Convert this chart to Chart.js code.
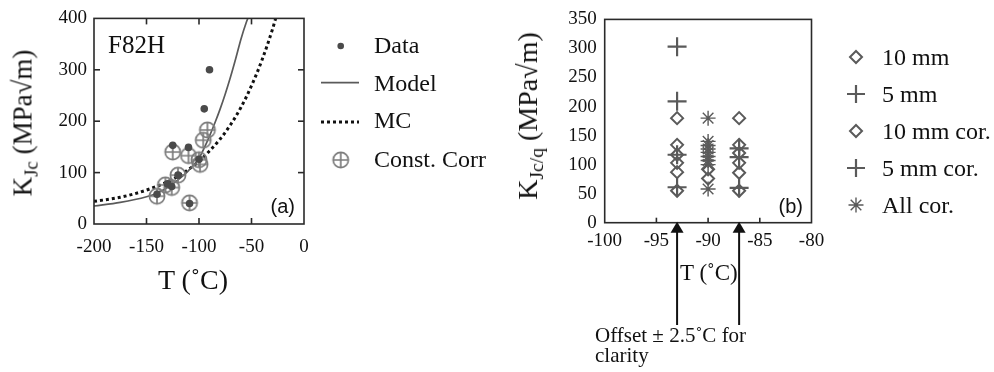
<!DOCTYPE html>
<html><head><meta charset="utf-8">
<script src="https://cdn.jsdelivr.net/npm/chart.js@4.4.1/dist/chart.umd.min.js"></script>
<style>
html,body{margin:0;padding:0;background:#fff;}
#wrap{position:relative;width:994px;height:372px;overflow:hidden;color:#111;}
canvas{position:absolute;left:0;top:0;}
.t{position:absolute;line-height:1;white-space:nowrap;font-family:"Liberation Serif","Times New Roman",serif;}
.sub{font-size:.7em;position:relative;top:.3em;}
</style></head><body>
<div id="wrap">
<canvas id="ca" width="994" height="372"></canvas>
<canvas id="cb" width="994" height="372"></canvas>
</div>
<script>
// ---------- Panel (a) data ----------
const dataT  = [-140, -130, -126, -125, -120, -110, -109, -100, -95, -90];
const dataK  = [58, 78, 73, 153, 95, 149, 40, 126, 224, 300];
const corrT  = [-140, -132, -126, -125, -120, -110, -109, -100, -99, -96, -92];
const corrK  = [54, 76, 71, 140, 95, 133, 41, 125, 116, 163, 183];
const modelT = [-200, -175, -150, -140, -130, -120, -110, -100, -95, -90, -85, -80, -75, -70, -65, -60, -55, -53.5];
const modelK = [35, 42, 53, 60, 71, 86, 104, 128, 148, 171, 196, 223, 253, 286, 322, 360, 392, 400];
const mcT    = [-200, -175, -150, -125, -110, -100, -90, -80, -70, -60, -50, -40, -30, -27];
const mcK    = [44, 52, 66, 87, 106, 122, 142, 165, 193, 227, 269, 319, 379, 400];
const legendA = ['Data', 'Model', 'MC', 'Const. Corr'];

// ---------- Panel (b) data ----------
const mm10T    = [-93, -93, -93, -93, -93, -93];
const mm10K    = [180, 134, 117, 103, 87, 55];
const mm5T     = [-93, -93, -93, -93];
const mm5K     = [303, 209, 117, 61];
const mm10corT = [-87, -87, -87, -87, -87, -87, -90, -90];
const mm10corK = [180, 134, 120, 103, 86, 55, 92, 76];
const mm5corT  = [-87, -87, -87];
const mm5corK  = [128, 113, 60];
const allcorT  = [-90, -90, -90, -90, -90, -90, -90, -90, -90];
const allcorK  = [180, 140, 133, 127, 121, 114, 107, 100, 58];
const legendB  = ['10 mm', '5 mm', '10 mm cor.', '5 mm cor.', 'All cor.'];
const arrowT   = [-93, -87];

const pts = (xs, ys) => xs.map((x, i) => ({x, y: ys[i]}));
const SERIF = '"Liberation Serif", "Times New Roman", serif';
const wrap = document.getElementById('wrap');

// crossed-circle marker
const cc = document.createElement('canvas');
cc.width = 20; cc.height = 20;
(function(){
  const c = cc.getContext('2d');
  c.strokeStyle = '#7c7c7c'; c.lineWidth = 1.7;
  c.beginPath(); c.arc(10, 10, 7.6, 0, Math.PI*2); c.stroke();
  c.beginPath(); c.moveTo(2.4, 10); c.lineTo(17.6, 10); c.moveTo(10, 2.4); c.lineTo(10, 17.6); c.stroke();
})();

function drawMarker(ctx, style, x, y, r, color, lw) {
  ctx.save();
  ctx.strokeStyle = color; ctx.fillStyle = color; ctx.lineWidth = lw;
  ctx.beginPath();
  if (style === 'dot') { ctx.arc(x, y, r, 0, Math.PI*2); ctx.fill(); }
  else if (style === 'diamond') { ctx.moveTo(x, y-r); ctx.lineTo(x+r, y); ctx.lineTo(x, y+r); ctx.lineTo(x-r, y); ctx.closePath(); ctx.stroke(); }
  else if (style === 'plus') { ctx.moveTo(x-r, y); ctx.lineTo(x+r, y); ctx.moveTo(x, y-r); ctx.lineTo(x, y+r); ctx.stroke(); }
  else if (style === 'star') {
    const d = r*Math.SQRT1_2;
    ctx.moveTo(x-r, y); ctx.lineTo(x+r, y); ctx.moveTo(x, y-r); ctx.lineTo(x, y+r);
    ctx.moveTo(x-d, y-d); ctx.lineTo(x+d, y+d); ctx.moveTo(x-d, y+d); ctx.lineTo(x+d, y-d); ctx.stroke();
  }
  ctx.restore();
}

const framePlugin = {
  id: 'frame',
  afterDraw(chart, args, o) {
    const {ctx, chartArea: a, scales: {x, y}} = chart;
    ctx.save();
    ctx.strokeStyle = '#2a2a2a'; ctx.lineWidth = 1.6;
    ctx.strokeRect(a.left, a.top, a.right - a.left, a.bottom - a.top);
    const L = o.len || 6;
    const seg = (x1, y1, x2, y2) => { ctx.beginPath(); ctx.moveTo(x1, y1); ctx.lineTo(x2, y2); ctx.stroke(); };
    x.ticks.forEach(t => {
      const p = x.getPixelForValue(t.value);
      if (p <= a.left + 1 || p >= a.right - 1) return;
      seg(p, a.bottom, p, a.bottom - L);
      if (o.top) seg(p, a.top, p, a.top + L);
    });
    if (o.yTicks) y.ticks.forEach(t => {
      const p = y.getPixelForValue(t.value);
      if (p <= a.top + 1 || p >= a.bottom - 1) return;
      seg(a.left, p, a.left + L, p);
      seg(a.right, p, a.right - L, p);
    });
    ctx.restore();
    if (o.extra) o.extra(chart);
  }
};

function fitArea(chart, target) {
  for (let i = 0; i < 4; i++) {
    const a = chart.chartArea, p = chart.options.layout.padding;
    p.left += target.left - a.left;
    p.top += target.top - a.top;
    p.right += a.right - target.right;
    p.bottom += a.bottom - target.bottom;
    chart.update('none');
  }
}

const tickFont = {family: SERIF, size: 19};
function axes(xmin, xmax, xstep, ymin, ymax, ystep, ypad, xpad) {
  return {
    x: {type: 'linear', min: xmin, max: xmax, grid: {display: false, drawTicks: false}, border: {display: false},
        ticks: {stepSize: xstep, font: tickFont, color: '#111', padding: xpad, maxRotation: 0}},
    y: {type: 'linear', min: ymin, max: ymax, grid: {display: false, drawTicks: false}, border: {display: false},
        ticks: {stepSize: ystep, font: tickFont, color: '#111', padding: ypad}}
  };
}

// ---------- Chart (a) ----------
const chartA = new Chart(document.getElementById('ca'), {
  type: 'scatter',
  data: {datasets: [
    {label: legendA[0], data: pts(dataT, dataK), pointStyle: 'circle', pointRadius: 3.8, backgroundColor: '#4a4a4a', borderWidth: 0},
    {label: legendA[3], data: pts(corrT, corrK), pointStyle: cc, pointRadius: 8},
    {label: legendA[1], type: 'line', data: pts(modelT, modelK), borderColor: '#5a5a5a', borderWidth: 1.7, pointRadius: 0, cubicInterpolationMode: 'monotone', fill: false},
    {label: legendA[2], type: 'line', data: pts(mcT, mcK), borderColor: '#111', borderWidth: 3, borderDash: [3, 3], pointRadius: 0, cubicInterpolationMode: 'monotone', fill: false}
  ]},
  options: {
    responsive: false, animation: false, devicePixelRatio: 1,
    layout: {padding: {left: 10, top: 10, right: 600, bottom: 100}},
    scales: axes(-200, 0, 50, 0, 400, 100, 7, 12),
    plugins: {legend: {display: false}, tooltip: {enabled: false},
      frame: {len: 6, top: true, yTicks: true, extra(chart) {
        const ctx = chart.ctx;
        drawMarker(ctx, 'dot', 340.7, 46, 3.3, '#4a4a4a', 1);
        ctx.save();
        ctx.strokeStyle = '#5a5a5a'; ctx.lineWidth = 1.7;
        ctx.beginPath(); ctx.moveTo(321, 82.7); ctx.lineTo(359, 82.7); ctx.stroke();
        ctx.strokeStyle = '#111'; ctx.lineWidth = 3; ctx.setLineDash([3, 3]);
        ctx.beginPath(); ctx.moveTo(321, 122); ctx.lineTo(359, 122); ctx.stroke();
        ctx.restore();
        ctx.drawImage(cc, 340.7 - 10, 160 - 10);
      }}}
  },
  plugins: [framePlugin]
});
fitArea(chartA, {left: 94, top: 16, right: 304, bottom: 224});

// ---------- Chart (b) ----------
const grey = '#5a5a5a';
const chartB = new Chart(document.getElementById('cb'), {
  type: 'scatter',
  data: {datasets: [
    {label: legendB[4], data: pts(allcorT, allcorK), pointStyle: 'star', pointRadius: 7.5, borderColor: grey, borderWidth: 1.4, backgroundColor: 'transparent'},
    {label: legendB[3], data: pts(mm5corT, mm5corK), pointStyle: 'cross', pointRadius: 9.5, borderColor: grey, borderWidth: 2.2, backgroundColor: 'transparent'},
    {label: legendB[2], data: pts(mm10corT, mm10corK), pointStyle: 'rectRot', pointRadius: 6, borderColor: grey, borderWidth: 2, backgroundColor: 'transparent'},
    {label: legendB[1], data: pts(mm5T, mm5K), pointStyle: 'cross', pointRadius: 9.5, borderColor: grey, borderWidth: 2.2, backgroundColor: 'transparent'},
    {label: legendB[0], data: pts(mm10T, mm10K), pointStyle: 'rectRot', pointRadius: 6, borderColor: grey, borderWidth: 2, backgroundColor: 'transparent'}
  ]},
  options: {
    responsive: false, animation: false, devicePixelRatio: 1,
    layout: {padding: {left: 550, top: 10, right: 150, bottom: 100}},
    scales: axes(-100, -80, 5, 0, 350, 50, 8, 7),
    plugins: {legend: {display: false}, tooltip: {enabled: false},
      frame: {len: 5, top: false, yTicks: false, extra(chart) {
        const ctx = chart.ctx, a = chart.chartArea, xs = chart.scales.x;
        // legend markers
        drawMarker(ctx, 'diamond', 856, 57, 6, grey, 2);
        drawMarker(ctx, 'plus', 856, 94, 9, grey, 2.2);
        drawMarker(ctx, 'diamond', 856, 131, 6, grey, 2);
        drawMarker(ctx, 'plus', 856, 168, 9, grey, 2.2);
        drawMarker(ctx, 'star', 856, 205, 7.5, grey, 1.4);
        // arrows
        ctx.save();
        ctx.strokeStyle = '#111'; ctx.fillStyle = '#111'; ctx.lineWidth = 2;
        arrowT.forEach(v => {
          const px = xs.getPixelForValue(v);
          ctx.beginPath(); ctx.moveTo(px, 325); ctx.lineTo(px, a.bottom + 8); ctx.stroke();
          ctx.beginPath(); ctx.moveTo(px, a.bottom - 1); ctx.lineTo(px + 6.5, a.bottom + 10); ctx.lineTo(px - 6.5, a.bottom + 10); ctx.closePath(); ctx.fill();
        });
        ctx.restore();
      }}}
  },
  plugins: [framePlugin]
});
fitArea(chartB, {left: 604.7, top: 15.7, right: 811.5, bottom: 222.7});

// ---------- Text ----------
function addText(html, x, base, size, o = {}) {
  const el = document.createElement('div');
  el.className = 't';
  el.innerHTML = html;
  el.style.fontSize = size + 'px';
  let asc = 0.8375;
  if (o.sans) { el.style.fontFamily = '"Liberation Sans", Arial, sans-serif'; asc = 0.8465; }
  el.style.top = (base - asc * size) + 'px';
  if (o.align === 'right') el.style.right = (994 - x) + 'px';
  else if (o.align === 'center') { el.style.left = x + 'px'; el.style.transform = 'translateX(-50%)'; }
  else el.style.left = x + 'px';
  wrap.appendChild(el);
}
function addVText(html, cx, cy, size) {
  const el = document.createElement('div');
  el.className = 't';
  el.innerHTML = html;
  el.style.fontSize = size + 'px';
  el.style.left = cx + 'px'; el.style.top = cy + 'px';
  el.style.transform = 'translate(-50%,-50%) rotate(-90deg)';
  wrap.appendChild(el);
}

addText('F82H', 108, 53, 25);
addText('(a)', 295, 213, 20, {sans: true, align: 'right'});
addText('(b)', 803, 213, 20, {sans: true, align: 'right'});
[53, 91, 128, 167].forEach((b, i) => addText(legendA[i], 374, b, 24));
[65, 102, 139, 176, 213].forEach((b, i) => addText(legendB[i], 882, b, 24));
addVText('K<span class="sub">Jc</span> (MPa√m)', 22.5, 123, 27);
addVText('K<span class="sub">Jc/q</span> (MPa√m)', 528, 116, 28);
addText('T (˚C)', 193, 289, 28, {align: 'center'});
addText('T (˚C)', 680, 280, 23);
addText('Offset ± 2.5˚C for', 595, 343, 21);
addText('clarity', 595, 363, 21);
</script>
</body></html>
